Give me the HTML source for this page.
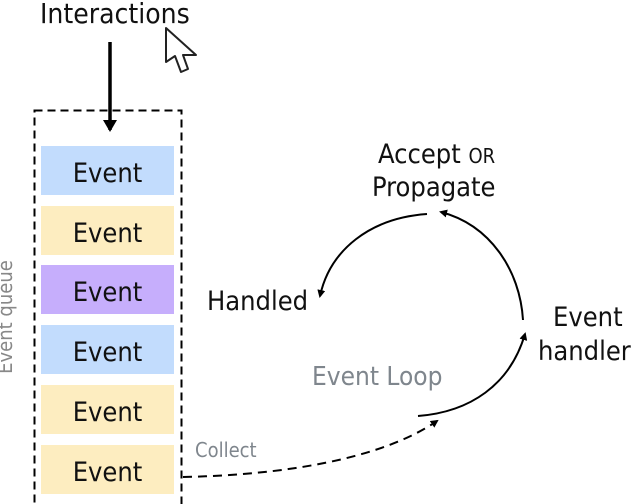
<!DOCTYPE html>
<html><head><style>
body{margin:0;width:634px;height:504px;background:#fff;overflow:hidden;position:relative;font-family:"DejaVu Sans Condensed","Liberation Sans Narrow","Liberation Sans",sans-serif}
.ev{position:absolute;left:41px;width:133px;height:49px;font-size:27px;color:#111;text-align:center;line-height:55px}
.t{position:absolute;white-space:nowrap;color:#111}
</style></head><body>
<svg width="634" height="504" style="position:absolute;left:0;top:0">
<defs><marker id="a" markerWidth="8" markerHeight="8" refX="6" refY="4" orient="auto" markerUnits="userSpaceOnUse"><path d="M0,0 L8,4 L0,8 Z" fill="#000"/></marker>
<marker id="b" markerWidth="14" markerHeight="14" refX="10" refY="7" orient="auto" markerUnits="userSpaceOnUse"><path d="M0,0 L12,7 L0,14 Z" fill="#000"/></marker></defs>
<rect x="34.5" y="110.5" width="147" height="400" fill="none" stroke="#000" stroke-width="2" stroke-dasharray="8,5"/>
<line x1="110" y1="42" x2="110" y2="130" stroke="#000" stroke-width="3.5" marker-end="url(#b)"/>
<path d="M427,214 C370,218 330,250 320,296" fill="none" stroke="#000" stroke-width="2" marker-end="url(#a)"/>
<path d="M523,320 C520,270 490,225 441,212" fill="none" stroke="#000" stroke-width="2" marker-end="url(#a)"/>
<path d="M418,416 C470,412 510,385 525,334" fill="none" stroke="#000" stroke-width="2" marker-end="url(#a)"/>
<path d="M183,477 C280,475 380,460 437,421" fill="none" stroke="#000" stroke-width="2" stroke-dasharray="9,6" marker-end="url(#a)"/>
<path d="M166,28 L166,62 L175,56 L181,72 L188,69 L183,55 L196,55 Z" fill="#fff" stroke="#222" stroke-width="2" stroke-linejoin="round"/>
</svg>
<div class="t" style="left:40px;top:-3px;font-size:28px">Interactions</div>
<div class="ev" style="top:146px;background:#c2dcfd">Event</div>
<div class="ev" style="top:206px;background:#fdedc0">Event</div>
<div class="ev" style="top:265px;background:#c6aefc">Event</div>
<div class="ev" style="top:325px;background:#c2dcfd">Event</div>
<div class="ev" style="top:385px;background:#fdedc0">Event</div>
<div class="ev" style="top:445px;background:#fdedc0">Event</div>
<div class="t" style="left:-52px;top:305px;font-size:20px;color:#888;transform:rotate(-90deg)">Event queue</div>
<div class="t" style="left:378px;top:139px;font-size:27px">Accept <span style="font-size:20px">OR</span></div>
<div class="t" style="left:372px;top:172px;font-size:27px">Propagate</div>
<div class="t" style="left:207px;top:286px;font-size:27px">Handled</div>
<div class="t" style="left:553px;top:302px;font-size:27px">Event</div>
<div class="t" style="left:538px;top:336px;font-size:27px">handler</div>
<div class="t" style="left:312px;top:362px;font-size:26px;color:#7f868d">Event Loop</div>
<div class="t" style="left:195px;top:438px;font-size:20px;color:#7f868d">Collect</div>
</body></html>
